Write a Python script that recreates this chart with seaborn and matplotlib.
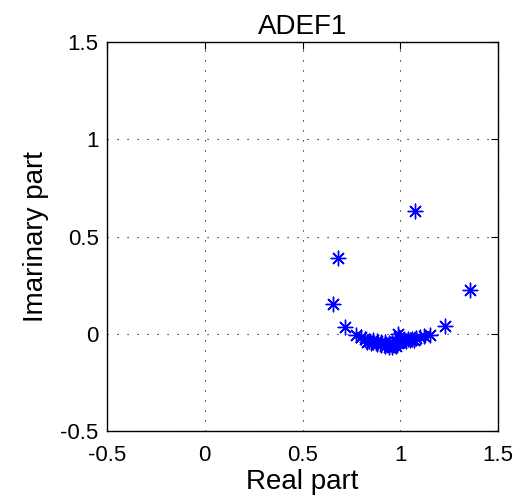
import numpy as np
import pandas as pd
import matplotlib
matplotlib.use("Agg")
import matplotlib.pyplot as plt
import seaborn as sns

# Eigenvalues of the ADEF1 operator (real and imaginary parts)
real_part = [
    1.075, 0.680, 0.655, 1.357, 0.716, 1.230, 1.151,
    0.990, 0.995, 1.000, 1.005,
    0.775, 0.800, 0.820, 0.840, 0.860, 0.880, 0.900, 0.920,
    0.940, 0.960, 0.975, 0.990, 1.000,
    0.860, 0.880, 0.900, 0.920, 0.940, 0.960, 0.980,
    0.880, 0.900, 0.920, 0.940, 0.960, 0.980,
    1.020, 1.040, 1.060, 1.080, 1.100, 1.120,
    1.030, 1.050, 1.070, 0.850, 0.830,
]
imag_part = [
    0.633, 0.392, 0.151, 0.223, 0.033, 0.038, -0.005,
    0.000, -0.015, -0.025, -0.030,
    -0.005, -0.018, -0.028, -0.035, -0.042, -0.048, -0.053, -0.057,
    -0.060, -0.060, -0.056, -0.048, -0.040,
    -0.030, -0.035, -0.040, -0.043, -0.046, -0.046, -0.040,
    -0.055, -0.060, -0.064, -0.066, -0.066, -0.062,
    -0.030, -0.028, -0.025, -0.020, -0.016, -0.012,
    -0.038, -0.034, -0.030, -0.048, -0.040,
]

x_ticks = [-0.5, 0, 0.5, 1, 1.5]
y_ticks = [-0.5, 0, 0.5, 1, 1.5]
x_tick_labels = ["-0.5", "0", "0.5", "1", "1.5"]
y_tick_labels = ["-0.5", "0", "0.5", "1", "1.5"]

df = pd.DataFrame({"Real part": real_part, "Imarinary part": imag_part})

sns.set_style("white")
plt.rcParams["font.family"] = ["Liberation Sans", "DejaVu Sans"]
plt.rcParams["text.color"] = "black"
plt.rcParams["axes.labelcolor"] = "black"
plt.rcParams["xtick.color"] = "black"
plt.rcParams["ytick.color"] = "black"

fig = plt.figure(figsize=(5.18, 5.03), dpi=100)
ax = fig.add_axes([0.2066, 0.1431, 0.7548, 0.7734])

sns.scatterplot(
    data=df, x="Real part", y="Imarinary part", ax=ax,
    marker=(8, 2, 0), s=110, color="#0000ff", edgecolor="#0000ff",
    linewidth=1.0, legend=False, zorder=3,
)

ax.set_xlim(-0.5, 1.5)
ax.set_ylim(-0.5, 1.5)
ax.set_xticks(x_ticks)
ax.set_xticklabels(x_tick_labels)
ax.set_yticks(y_ticks)
ax.set_yticklabels(y_tick_labels)
ax.grid(True, color="black", linestyle=(0, (1, 8)), linewidth=0.8)
ax.tick_params(direction="in", length=5, width=0.8, top=True, right=True,
               labelsize=16, colors="black", labelcolor="black")
ax.tick_params(axis="x", pad=10)
ax.tick_params(axis="y", pad=6)

for sp in ax.spines.values():
    sp.set_visible(True)
    sp.set_color("black")
    sp.set_linewidth(1.0)

ax.set_title("ADEF1", fontsize=20, pad=6, color="black")
ax.set_xlabel("Real part", fontsize=20, labelpad=2, color="black")
ax.set_ylabel("Imarinary part", fontsize=20, labelpad=8, color="black")

fig.savefig("out.png", dpi=100)
